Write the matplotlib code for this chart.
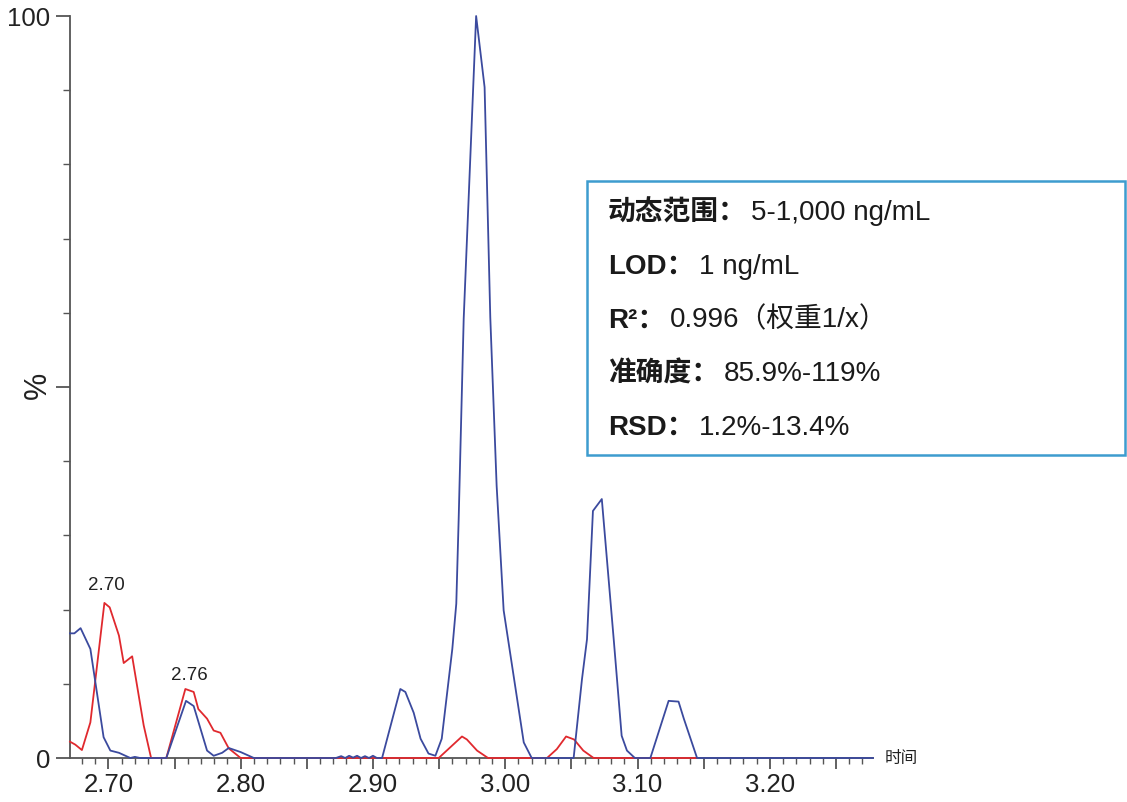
import matplotlib
matplotlib.use("Agg")
import matplotlib.pyplot as plt
from matplotlib.ticker import MultipleLocator, FixedLocator
from matplotlib.patches import Rectangle

plt.rcParams['font.family'] = ['Liberation Sans', 'Noto Sans CJK SC', 'DejaVu Sans']

# blue trace (retention time, %)
blue_t = [2.671, 2.6743, 2.679, 2.6864, 2.6964, 2.7015, 2.708, 2.7166, 2.720, 2.724,
          2.7438, 2.7587, 2.7645, 2.7746, 2.7796, 2.786, 2.791, 2.800, 2.810,
          2.872, 2.876, 2.879, 2.882, 2.885, 2.888, 2.891, 2.894, 2.897, 2.900, 2.903, 2.9069,
          2.9207, 2.9245, 2.9308, 2.936, 2.942, 2.9472, 2.952, 2.960, 2.963, 2.9648, 2.9686,
          2.978, 2.9844, 2.9887, 2.9935, 2.9988, 3.014, 3.020,
          3.0517, 3.058, 3.0618, 3.0663, 3.073, 3.082, 3.0845, 3.088, 3.092, 3.098,
          3.1097, 3.1235, 3.131, 3.135, 3.145, 3.278]
blue_v = [16.8, 16.8, 17.5, 14.7, 2.8, 1.0, 0.7, 0.0, 0.15, 0.0,
          0.0, 7.7, 7.0, 1.0, 0.3, 0.7, 1.35, 0.8, 0.0,
          0.0, 0.25, 0.0, 0.3, 0.05, 0.3, 0.0, 0.25, 0.0, 0.3, 0.0, 0.0,
          9.3, 8.9, 6.1, 2.6, 0.6, 0.3, 2.6, 14.7, 20.8, 32.2, 59.2,
          100.0, 90.4, 59.4, 36.7, 19.9, 2.1, 0.0,
          0.0, 10.6, 16.0, 33.3, 34.9, 16.0, 10.6, 3.0, 1.0, 0.0,
          0.0, 7.7, 7.6, 5.3, 0.0, 0.0]

# red trace
red_t = [2.671, 2.675, 2.680, 2.6864, 2.697, 2.701, 2.708, 2.7116, 2.718, 2.7267, 2.7323,
         2.7438, 2.7582, 2.7645, 2.768, 2.7746, 2.7796, 2.7847, 2.791, 2.800,
         2.9497, 2.9673, 2.971, 2.9787, 2.987,
         3.0316, 3.039, 3.046, 3.052, 3.059, 3.0668, 3.145]
red_v = [2.2, 1.8, 1.07, 4.8, 20.9, 20.3, 16.5, 12.8, 13.7, 4.4, 0.0,
         0.0, 9.3, 8.9, 6.6, 5.3, 3.7, 3.4, 1.3, 0.0,
         0.0, 2.9, 2.5, 1.0, 0.0,
         0.0, 1.2, 2.9, 2.5, 1.0, 0.0, 0.0]

peak_labels = ["2.70", "2.76"]
peak_pos = [(2.6985, 22.3), (2.761, 10.1)]

info_lines = [("动态范围：", "5-1,000 ng/mL"),
              ("LOD：", "1 ng/mL"),
              ("R²：", "0.996（权重1/x）"),
              ("准确度：", "85.9%-119%"),
              ("RSD：", "1.2%-13.4%")]

fig = plt.figure(figsize=(11.27, 8.03), dpi=100)
ax = fig.add_axes([70/1127, 44/803, 803/1127, 742/803])

blue = '#3b4a9e'
red = '#e0292e'
ax.plot(red_t, red_v, color=red, lw=1.3, clip_on=False, zorder=3)
ax.plot(blue_t, blue_v, color=blue, lw=1.3, clip_on=False, zorder=4)

ax.set_xlim(2.671, 3.278)
ax.set_ylim(0, 100)

for s in ['top', 'right']:
    ax.spines[s].set_visible(False)
for s in ['left', 'bottom']:
    ax.spines[s].set_color('#555555')
    ax.spines[s].set_linewidth(1.3)

xmaj = [2.70, 2.75, 2.80, 2.85, 2.90, 2.95, 3.00, 3.05, 3.10, 3.15, 3.20, 3.25]
ax.xaxis.set_major_locator(FixedLocator(xmaj))
ax.xaxis.set_minor_locator(MultipleLocator(0.01))
ax.set_xticklabels([f"{v:.2f}" if i % 2 == 0 else "" for i, v in enumerate(xmaj)])
ax.tick_params(axis='x', which='major', length=8, width=1.3, color='#555555',
               labelsize=18.5, pad=2, labelcolor='#222222')
ax.tick_params(axis='x', which='minor', length=4, width=1.0, color='#555555')

ax.yaxis.set_major_locator(FixedLocator([0, 50, 100]))
ax.yaxis.set_minor_locator(MultipleLocator(10))
ax.set_yticklabels(["0", "", "100"])
ax.tick_params(axis='y', which='major', length=10, width=1.3, color='#555555',
               labelsize=18.5, pad=4, labelcolor='#222222')
ax.tick_params(axis='y', which='minor', length=5, width=1.0, color='#555555')

fig.text(38/1127, 1 - 385/803, "%", rotation=90, fontsize=22, color='#222222',
         ha='center', va='center')
fig.text(885/1127, 1 - 759/803, "时间", fontsize=12, color='#222222',
         ha='left', va='center', family=['Noto Sans CJK SC', 'DejaVu Sans'])

for lab, (px, py) in zip(peak_labels, peak_pos):
    ax.text(px, py, lab, fontsize=13.5, color='#222222', ha='center', va='bottom')

# info box
fig.patches.append(Rectangle((587/1127, 1 - 456/803), 538/1127, 274/803,
                             transform=fig.transFigure, fill=False,
                             edgecolor='#3d9ccf', linewidth=1.8))
y0 = 213
for i, (head, val) in enumerate(info_lines):
    yy = 1 - (y0 + i * 53.8) / 803
    t = fig.text(608/1127, yy, head, fontsize=20, fontweight='bold', color='#1a1a1a',
                 ha='left', va='center', family=['Liberation Sans', 'Noto Sans CJK SC'])
    fig.canvas.draw()
    bb = t.get_window_extent()
    fig.text(bb.x1 / 1127 + 0.004, yy, val, fontsize=20, color='#1a1a1a', ha='left', va='center',
             family=['Liberation Sans', 'Noto Sans CJK SC'])

fig.savefig("out.png", dpi=100)
